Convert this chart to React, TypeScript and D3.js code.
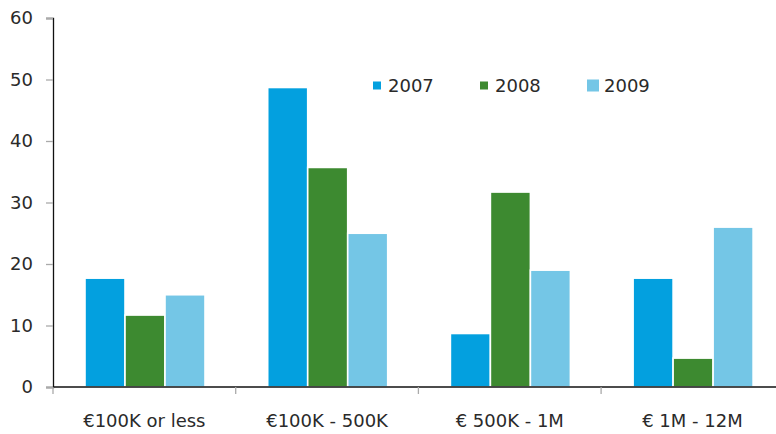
import React, { useRef, useEffect } from 'react';
import * as d3 from 'd3';

const categories = ['€100K or less', '€100K - 500K', '€ 500K - 1M', '€ 1M - 12M'];
const seriesNames = ['2007', '2008', '2009'];
const values2007 = [17.7, 48.7, 8.7, 17.7];
const values2008 = [11.7, 35.7, 31.7, 4.7];
const values2009 = [15.0, 25.0, 19.0, 26.0];
const yTicks = [0, 10, 20, 30, 40, 50, 60];
const colors = ['#03a0df', '#3d8a30', '#74c6e6'];

export default function App() {
  const svgRef = useRef<SVGSVGElement>(null);

  useEffect(() => {
    document.body.style.margin = '0';
    const width = 776;
    const font = '"DejaVu Sans", sans-serif';

    const svg = d3.select(svgRef.current);
    svg.selectAll('*').remove();

    const left = 53;
    const bandW = 182.7;
    const x0 = d3.scaleBand<string>()
      .domain(categories)
      .range([left, left + bandW * categories.length])
      .padding(0);
    const x1 = d3.scaleBand<string>()
      .domain(seriesNames)
      .range([32, 152])
      .padding(0);
    const y = d3.scaleLinear().domain([0, 60]).range([387, 18]);

    const allSeries = [values2007, values2008, values2009];
    const rows = categories.flatMap((c, i) =>
      seriesNames.map((s, j) => ({ cat: c, series: s, value: allSeries[j][i], idx: j }))
    );

    // bars
    svg.append('g')
      .selectAll('rect')
      .data(rows)
      .join('rect')
      .attr('x', d => x0(d.cat)! + x1(d.series)!)
      .attr('y', d => y(d.value))
      .attr('width', x1.bandwidth())
      .attr('height', d => y(0) - y(d.value))
      .attr('fill', d => colors[d.idx])
      .attr('stroke', '#ffffff')
      .attr('stroke-width', 1.6);

    // y axis
    const yAxis = svg.append('g')
      .attr('transform', `translate(${left},0)`)
      .call(d3.axisLeft(y).tickValues(yTicks).tickSize(7).tickPadding(13).tickFormat(d3.format('d')));
    yAxis.select('.domain').attr('stroke', '#111').attr('stroke-width', 1.3);
    yAxis.selectAll('.tick line').attr('stroke', '#aaa').attr('stroke-width', 1.3);
    yAxis.selectAll('.tick text')
      .attr('fill', '#2a2a2a')
      .style('font-size', '18px')
      .style('font-family', font);

    // x axis
    const xAxis = svg.append('g')
      .attr('transform', `translate(0,${y(0)})`)
      .call(d3.axisBottom(x0).tickSize(0).tickPadding(27));
    xAxis.select('.domain').attr('stroke', '#111').attr('stroke-width', 1.3)
      .attr('d', `M${left},0H${width}`);
    xAxis.selectAll('.tick text')
      .attr('fill', '#2a2a2a')
      .style('font-size', '18px')
      .style('font-family', font);
    // category separators
    xAxis.selectAll('line.sep')
      .data(categories)
      .join('line')
      .attr('class', 'sep')
      .attr('x1', d => x0(d)!)
      .attr('x2', d => x0(d)!)
      .attr('y1', 0)
      .attr('y2', 7)
      .attr('stroke', '#aaa')
      .attr('stroke-width', 1.3);

    // legend
    const legendX = [373, 480, 587];
    const legendSize = [8, 8, 12];
    const legend = svg.append('g');
    seriesNames.forEach((s, i) => {
      const sz = legendSize[i];
      legend.append('rect')
        .attr('x', legendX[i])
        .attr('y', 85.5 - sz / 2)
        .attr('width', sz)
        .attr('height', sz)
        .attr('fill', colors[i]);
      legend.append('text')
        .attr('x', legendX[i] + (i === 2 ? 17 : 15))
        .attr('y', 92)
        .attr('fill', '#2a2a2a')
        .style('font-size', '18px')
        .style('font-family', font)
        .text(s);
    });
  }, []);

  return (
    <svg ref={svgRef} width={776} height={434} style={{ display: 'block' }}></svg>
  );
}
